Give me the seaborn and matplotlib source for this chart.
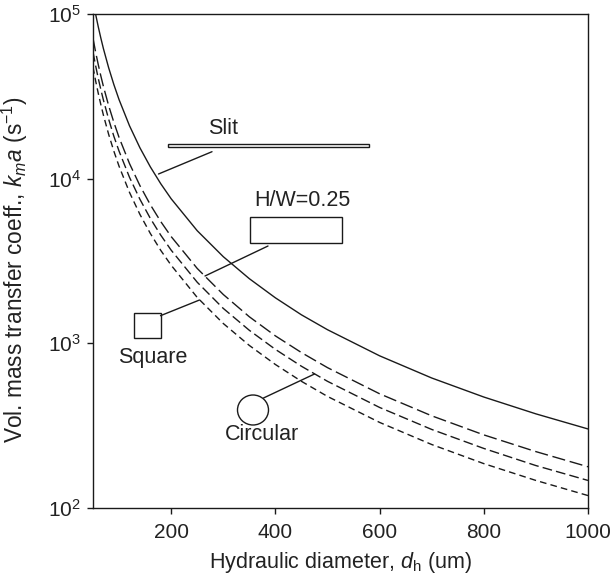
import numpy as np
import pandas as pd
import matplotlib
matplotlib.use("Agg")
import matplotlib.pyplot as plt
import seaborn as sns
from matplotlib.patches import Rectangle, Ellipse
from matplotlib.lines import Line2D

# ---------------- data ----------------
diameter_um = [50, 55, 60, 65, 70, 80, 90, 100, 120, 140, 160, 180, 200,
               250, 300, 350, 400, 450, 500, 600, 700, 800, 900, 1000]
slit = [120800, 99800, 83900, 71500, 61600, 47200, 37300, 30200, 20970, 15410,
        11800, 9320, 7550, 4830, 3360, 2470, 1890, 1490, 1210, 840, 616, 472, 373, 302]
hw025 = [71200, 58800, 49400, 42100, 36300, 27800, 22000, 17800, 12360, 9080,
         6950, 5490, 4450, 2850, 1980, 1450, 1110, 879, 712, 494, 363, 278, 220, 178]
square = [58800, 48600, 40800, 34800, 30000, 23000, 18100, 14700, 10200, 7500,
          5740, 4540, 3680, 2350, 1630, 1200, 919, 726, 588, 408, 300, 230, 181, 147]
circular = [47600, 39300, 33100, 28200, 24300, 18600, 14700, 11900, 8260, 6070,
            4650, 3670, 2980, 1900, 1320, 971, 744, 588, 476, 331, 243, 186, 147, 119]
series_names = ["Slit", "H/W=0.25", "Square", "Circular"]
x_ticks = [200, 400, 600, 800, 1000]
y_ticks = [1e2, 1e3, 1e4, 1e5]

df = pd.concat([
    pd.DataFrame({"d": diameter_um, "kma": vals, "shape": name})
    for name, vals in zip(series_names, [slit, hw025, square, circular])
], ignore_index=True)

# ---------------- style ----------------
sns.set_style("ticks")
plt.rcParams["font.family"] = ["Liberation Sans", "DejaVu Sans"]
plt.rcParams["mathtext.fontset"] = "custom"
plt.rcParams["mathtext.rm"] = "Liberation Sans"
plt.rcParams["mathtext.it"] = "Liberation Sans:italic"
plt.rcParams["mathtext.default"] = "regular"

TXT = "#222222"
FS = 15.5
fig = plt.figure(figsize=(6.11, 5.76), dpi=100)
L, R, B, T = 93, 588, 508, 14
W, H = 611, 576
ax = fig.add_axes([L / W, 1 - B / H, (R - L) / W, (B - T) / H])

dash_map = {"Slit": "", "H/W=0.25": (9.5, 3.4), "Square": (7, 3), "Circular": (4.8, 3)}
sns.lineplot(data=df, x="d", y="kma", hue="shape", style="shape",
             palette={n: "#1a1a1a" for n in series_names},
             dashes=dash_map, linewidth=1.0, legend=False, ax=ax,
             estimator=None, sort=True)

ax.set_yscale("log")
ax.set_xlim(50, 1000)
ax.set_ylim(1e2, 1e5)
ax.set_xticks(x_ticks)
ax.set_yticks(y_ticks)
ax.yaxis.set_minor_locator(matplotlib.ticker.NullLocator())
ax.xaxis.set_minor_locator(matplotlib.ticker.NullLocator())
ax.tick_params(direction="out", length=4.5, width=1.0, colors="#1a1a1a",
               labelsize=15, labelcolor=TXT, pad=4)
ax.tick_params(axis="x", pad=6)
for s in ax.spines.values():
    s.set_linewidth(1.0)
    s.set_color("#1a1a1a")


def fx(px):
    return (px - L) / (R - L)


def fy(py):
    return (B - py) / (B - T)


ax.set_xlabel("Hydraulic diameter, $\\mathit{d}_{\\mathrm{h}}$ (um)", fontsize=FS,
              color=TXT, labelpad=6)
ax.set_ylabel("Vol. mass transfer coeff., $\\mathit{k_m a}$ (s$^{-1}$)", fontsize=16.3,
              color=TXT)
ax.yaxis.set_label_coords(fx(30), fy(270))

# ---------------- annotations (pixel positions -> axes fraction) ----------------
tr = ax.transAxes
kw_line = dict(color="#1a1a1a", lw=1.0, transform=tr, clip_on=False)
kw_patch = dict(fill=False, ec="#1a1a1a", lw=1.0, transform=tr, clip_on=False)

# Slit
ax.text(fx(223), fy(128), "Slit", transform=tr, ha="center", va="center",
        fontsize=FS, color=TXT)
ax.add_patch(Rectangle((fx(167.5), fy(147)), fx(369) - fx(167.5), fy(144) - fy(147), **kw_patch))
ax.add_line(Line2D([fx(212), fx(158.5)], [fy(151.7), fy(174)], **kw_line))

# H/W = 0.25
ax.text(fx(302), fy(201), "H/W=0.25", transform=tr, ha="center", va="center",
        fontsize=FS, color=TXT)
ax.add_patch(Rectangle((fx(250), fy(243)), fx(342) - fx(250), fy(217) - fy(243), **kw_patch))
ax.add_line(Line2D([fx(268), fx(205)], [fy(246), fy(276)], **kw_line))

# Square
ax.add_patch(Rectangle((fx(134.3), fy(337.7)), fx(160.5) - fx(134.3), fy(313) - fy(337.7), **kw_patch))
ax.add_line(Line2D([fx(160.5), fx(199.5)], [fy(315.7), fy(300)], **kw_line))
ax.text(fx(152.7), fy(357), "Square", transform=tr, ha="center", va="center",
        fontsize=FS, color=TXT)

# Circular
ax.add_patch(Ellipse((fx(253), fy(410)), 31 / (R - L), 30 / (B - T), **kw_patch))
ax.add_line(Line2D([fx(263.5), fx(314.5)], [fy(398), fy(374)], **kw_line))
ax.text(fx(262), fy(435), "Circular", transform=tr, ha="center", va="center",
        fontsize=FS, color=TXT)

fig.savefig("out.png", dpi=100)
